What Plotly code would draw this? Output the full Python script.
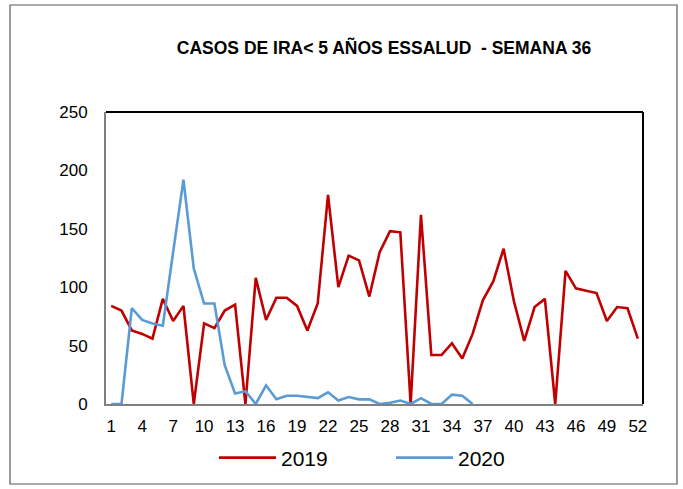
import plotly.graph_objects as go

weeks = list(range(1, 53))

cases_2019 = [84, 80, 63, 60, 56, 90, 71, 84, 0, 69,
              65, 80, 85, 0, 108, 72, 91, 91, 84, 63,
              86, 179, 100, 127, 123, 92, 130, 148, 147, 0,
              162, 42, 42, 52, 39, 60, 89, 105, 133, 88,
              54, 83, 90, 0, 114, 99, 97, 95, 71, 83,
              82, 56]

cases_2020 = [0, 0, 82, 72, 69, 67, 130, 192, 116, 86,
              86, 33, 9, 11, 0, 16, 4, 7, 7, 6,
              5, 10, 3, 6, 4, 4, 0, 1, 3, 0,
              5, 0, 0, 8, 7, 0]

x_ticks = list(range(1, 53, 3))
y_ticks = [0, 50, 100, 150, 200, 250]

TITLE = "CASOS DE IRA< 5 AÑOS ESSALUD  - SEMANA 36"

fig = go.Figure()
fig.add_trace(go.Scatter(x=weeks, y=cases_2019, mode="lines", name="2019",
                         line=dict(color="#C00000", width=2.6)))
fig.add_trace(go.Scatter(x=weeks[:len(cases_2020)], y=cases_2020, mode="lines", name="2020",
                         line=dict(color="#5B9BD5", width=2.6)))

W, H = 683, 489
ml, mr, mt, mb = 106, 40, 112, 85
pw, ph = W - ml - mr, H - mt - mb

fig.update_layout(
    width=W, height=H,
    margin=dict(l=ml, r=mr, t=mt, b=mb, pad=0, autoexpand=False),
    paper_bgcolor="white", plot_bgcolor="white",
    font=dict(family="Liberation Sans, Arial, sans-serif", size=17, color="black"),
    title=dict(text="<b>" + TITLE + "</b>", x=384 / W, xanchor="center",
               y=1 - 48 / H, yanchor="middle",
               font=dict(family="Liberation Sans, Arial, sans-serif", size=17.5)),
    showlegend=True,
    legend=dict(orientation="h", x=(214 - ml) / pw, xanchor="left",
                y=-(458 - (H - mb)) / ph, yanchor="middle",
                font=dict(size=21), entrywidth=105, itemwidth=57,
                bgcolor="rgba(0,0,0,0)"),
    xaxis=dict(range=[0.5, 52.5], tickmode="array", tickvals=x_ticks,
               showgrid=False, zeroline=False, showline=True, linecolor="#808080",
               linewidth=2, ticks="", tickfont=dict(size=17), ticklabelstandoff=6),
    yaxis=dict(range=[0, 250], tickmode="array", tickvals=y_ticks,
               showgrid=False, zeroline=False, showline=True, linecolor="#808080",
               linewidth=2, ticks="", tickfont=dict(size=17), ticklabelstandoff=13),
)

# plot-area frame (top and right edges in black)
fig.add_shape(type="line", xref="paper", yref="paper", x0=0, x1=1, y0=1, y1=1,
              line=dict(color="black", width=2))
fig.add_shape(type="line", xref="paper", yref="paper", x0=1, x1=1, y0=0, y1=1,
              line=dict(color="black", width=2))

# outer chart border
fig.add_shape(type="rect", xref="paper", yref="paper",
              x0=(10 - ml) / pw, x1=(677 - ml) / pw,
              y0=-(484 - (H - mb)) / ph, y1=((H - mb) - 5) / ph,
              line=dict(color="#595959", width=1.2), layer="below")

fig.write_html("out.html")
